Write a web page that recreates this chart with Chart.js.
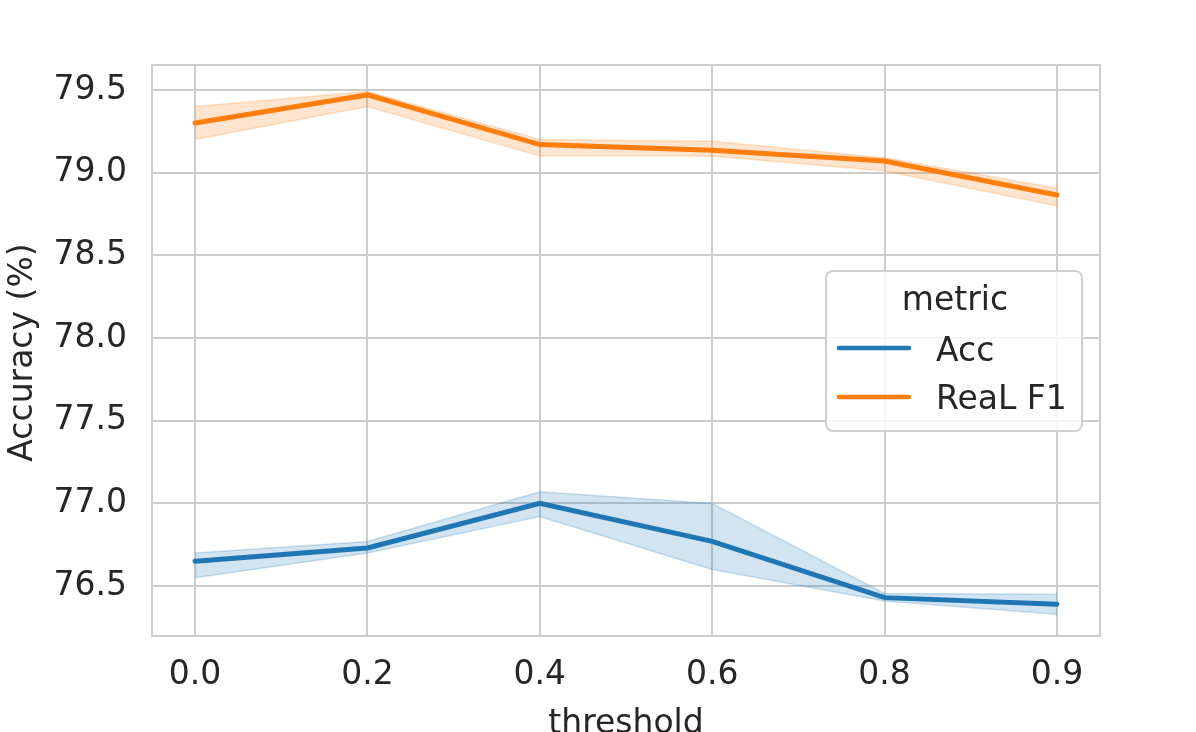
<!DOCTYPE html>
<html>
<head>
<meta charset="utf-8">
<script src="https://cdn.jsdelivr.net/npm/chart.js@4"></script>
<style>
  html, body { margin: 0; padding: 0; background: #fff; }
  #wrap { width: 1196px; height: 732px; }
</style>
</head>
<body>
<div id="wrap"><canvas id="lineChart"></canvas></div>
<script>
// threshold categories (drawn at equal spacing)
var thresholds = ['0.0', '0.2', '0.4', '0.6', '0.8', '0.9'];

// Acc (blue) - mean and confidence band
var accMean = [76.65, 76.73, 77.00, 76.77, 76.43, 76.39];
var accLow  = [76.55, 76.70, 76.92, 76.60, 76.41, 76.33];
var accHigh = [76.70, 76.77, 77.07, 77.00, 76.455, 76.45];

// ReaL F1 (orange) - mean and confidence band
var f1Mean = [79.30, 79.47, 79.17, 79.135, 79.07, 78.865];
var f1Low  = [79.20, 79.40, 79.10, 79.10, 79.01, 78.80];
var f1High = [79.40, 79.49, 79.20, 79.19, 79.09, 78.905];

var yTicks = [76.5, 77.0, 77.5, 78.0, 78.5, 79.0, 79.5];

var BLUE = '#1f77b4';
var ORANGE = '#ff7f0e';
var TEXT = '#262626';
var GRID = '#cccccc';
var FONT = "'DejaVu Sans', sans-serif";
var FSIZE = 33;

function pts(arr) {
    return arr.map(function (v, i) { return { x: i, y: v }; });
}

function bandSet(label, arr, color, fillTo) {
    return {
        label: label,
        data: pts(arr),
        borderColor: color.replace('0.2)', '0.22)'),
        borderWidth: 1.5,
        backgroundColor: color,
        pointRadius: 0,
        fill: fillTo,
        tension: 0
    };
}

// frame, axis titles and legend
var extras = {
    id: 'extras',
    afterDraw: function (chart) {
        var ctx = chart.ctx;
        var a = chart.chartArea;
        ctx.save();
        ctx.strokeStyle = GRID;
        ctx.lineWidth = 2;
        ctx.strokeRect(a.left, a.top, a.right - a.left, a.bottom - a.top);

        ctx.fillStyle = TEXT;
        ctx.font = FSIZE + 'px ' + FONT;
        ctx.textAlign = 'center';
        ctx.textBaseline = 'alphabetic';
        ctx.fillText('threshold', (a.left + a.right) / 2, 733);

        ctx.save();
        ctx.translate(32, (a.top + a.bottom) / 2 + 2);
        ctx.rotate(-Math.PI / 2);
        ctx.fillText('Accuracy (%)', 0, 0);
        ctx.restore();

        // legend box
        var bx = 826, by = 271, bw = 256, bh = 160, r = 7;
        ctx.beginPath();
        ctx.moveTo(bx + r, by);
        ctx.arcTo(bx + bw, by, bx + bw, by + bh, r);
        ctx.arcTo(bx + bw, by + bh, bx, by + bh, r);
        ctx.arcTo(bx, by + bh, bx, by, r);
        ctx.arcTo(bx, by, bx + bw, by, r);
        ctx.closePath();
        ctx.fillStyle = 'rgba(255,255,255,0.8)';
        ctx.fill();
        ctx.strokeStyle = '#d0d0d0';
        ctx.lineWidth = 2;
        ctx.stroke();

        ctx.fillStyle = TEXT;
        ctx.textAlign = 'center';
        ctx.fillText('metric', bx + bw / 2 + 1, 310);

        var items = [['Acc', BLUE, 348, 361], ['ReaL F1', ORANGE, 397, 409]];
        items.forEach(function (it) {
            ctx.strokeStyle = it[1];
            ctx.lineWidth = 4.5;
            ctx.lineCap = 'round';
            ctx.beginPath();
            ctx.moveTo(839, it[2]);
            ctx.lineTo(909, it[2]);
            ctx.stroke();
            ctx.fillStyle = TEXT;
            ctx.textAlign = 'left';
            ctx.fillText(it[0], 936, it[3]);
        });
        ctx.restore();
    }
};

var ctx = document.getElementById('lineChart').getContext('2d');

new Chart(ctx, {
    type: 'line',
    data: {
        datasets: [
            bandSet('acc_high', accHigh, 'rgba(31,119,180,0.2)', false),
            bandSet('acc_low', accLow, 'rgba(31,119,180,0.2)', '-1'),
            {
                label: 'Acc',
                data: pts(accMean),
                borderColor: BLUE,
                borderWidth: 5,
                borderCapStyle: 'round',
                pointRadius: 0,
                fill: false,
                tension: 0
            },
            bandSet('f1_high', f1High, 'rgba(255,127,14,0.2)', false),
            bandSet('f1_low', f1Low, 'rgba(255,127,14,0.2)', '-1'),
            {
                label: 'ReaL F1',
                data: pts(f1Mean),
                borderColor: ORANGE,
                borderWidth: 5,
                borderCapStyle: 'round',
                pointRadius: 0,
                fill: false,
                tension: 0
            }
        ]
    },
    options: {
        responsive: true,
        maintainAspectRatio: false,
        devicePixelRatio: 1,
        animation: false,
        layout: { padding: { top: 65, right: 96, left: 0, bottom: 0 } },
        plugins: {
            legend: { display: false },
            tooltip: { enabled: false }
        },
        scales: {
            x: {
                type: 'linear',
                min: -0.25,
                max: 5.25,
                afterFit: function (s) { s.height = 96; },
                afterBuildTicks: function (s) {
                    s.ticks = thresholds.map(function (t, i) { return { value: i }; });
                },
                ticks: {
                    color: TEXT,
                    font: { family: FONT, size: FSIZE },
                    padding: 20,
                    maxRotation: 0,
                    autoSkip: false,
                    callback: function (v) { return thresholds[v]; }
                },
                grid: { color: GRID, lineWidth: 2, drawTicks: false },
                border: { display: false }
            },
            y: {
                min: 76.198,
                max: 79.651,
                afterFit: function (s) { s.width = 152; },
                afterBuildTicks: function (s) {
                    s.ticks = yTicks.map(function (v) { return { value: v }; });
                },
                ticks: {
                    color: TEXT,
                    font: { family: FONT, size: FSIZE },
                    padding: 25,
                    callback: function (v) { return v.toFixed(1); }
                },
                grid: { color: GRID, lineWidth: 2, drawTicks: false },
                border: { display: false }
            }
        }
    },
    plugins: [extras]
});
</script>
</body>
</html>
